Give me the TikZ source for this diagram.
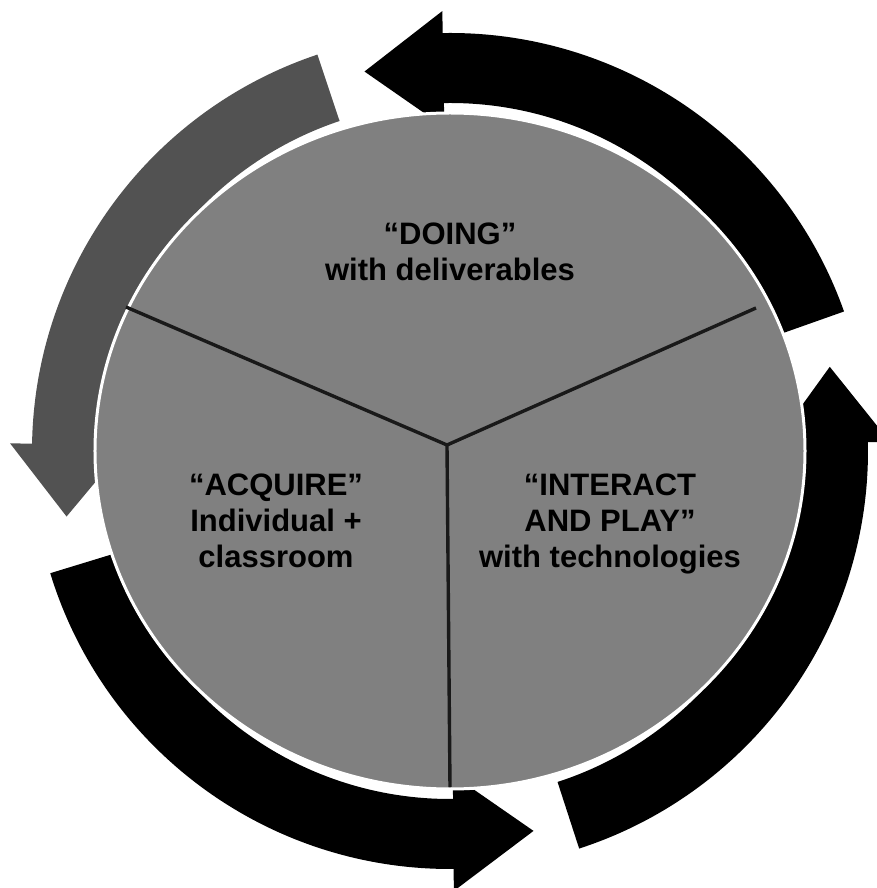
\documentclass[tikz,border=0pt]{standalone}
\usepackage{fontspec}
\setmainfont{Liberation Sans}
\usepackage{tikz}
\usetikzlibrary{shapes.geometric}
\definecolor{discgrey}{gray}{0.5}
\definecolor{leftgrey}{gray}{0.32}

\begin{document}
\begin{tikzpicture}[x=1pt, y=1pt,
	discshape/.style={ellipse, fill=discgrey, draw=white, line width=3pt, minimum width=710pt, minimum height=676pt, inner sep=0pt},
	divider/.style={line width=3.4pt, black!90},
	sectortext/.style={align=center, font=\fontsize{31}{36}\selectfont\bfseries, inner sep=0pt},
	darkarrow/.style={fill=black},
	greyarrow/.style={fill=leftgrey}]
	\useasboundingbox (-450,-437) rectangle (426,451);

	\fill [darkarrow] (19.5:418) arc [start angle=19.5, end angle=91, radius=418pt] -- (91:440) -- (102.7:389) -- (91:324) -- (91:348) arc [start angle=91, end angle=19.5, radius=348pt] -- cycle;
	\fill [greyarrow] (108.5:418) arc [start angle=108.5, end angle=179, radius=418pt] -- (179:440) -- (189.7:389) -- (179:324) -- (179:348) arc [start angle=179, end angle=108.5, radius=348pt] -- cycle;
	\fill [darkarrow] (197:418) arc [start angle=197, end angle=270.5, radius=418pt] -- (270.5:440) -- (282.4:389) -- (270.5:324) -- (270.5:348) arc [start angle=270.5, end angle=197, radius=348pt] -- cycle;
	\fill [darkarrow] (288:418) arc [start angle=288, end angle=361.2, radius=418pt] -- (361.2:440) -- (372.5:389) -- (361.2:324) -- (361.2:348) arc [start angle=361.2, end angle=288, radius=348pt] -- cycle;

	\node (disc) [discshape] at (0,0) {};

	\coordinate (hub) at (-3,6);
	\coordinate (leftend) at (-324,144);
	\coordinate (rightend) at (306,143);
	\coordinate (bottomend) at (0,-336);

	\draw [divider] (hub) to (leftend);
	\draw [divider] (hub) to (rightend);
	\draw [divider] (hub) to (bottomend);

	\node (doing) [sectortext] at (0,199) {``DOING''\\with deliverables};
	\node (acquire) [sectortext] at (-174,-70) {``ACQUIRE''\\Individual +\\classroom};
	\node (interact) [sectortext] at (160,-73) {``INTERACT\\AND PLAY''\\with technologies};
\end{tikzpicture}
\end{document}
